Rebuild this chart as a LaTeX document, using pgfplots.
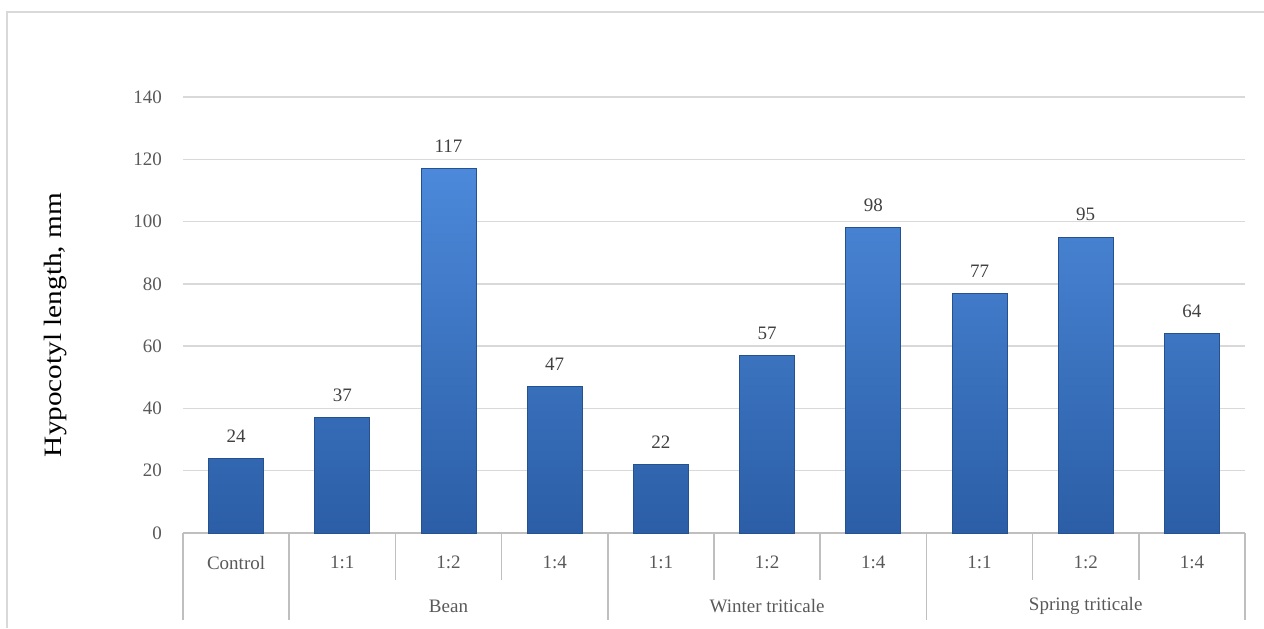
\documentclass[border=0pt]{standalone}
\usepackage{pgfplots}
\pgfplotsset{compat=1.18}
\usepackage{fontspec}
\setmainfont{Liberation Serif}
\definecolor{barTop}{HTML}{4C89DA}
\definecolor{barBot}{HTML}{2B5EA6}
\definecolor{barEdge}{HTML}{25528F}
\definecolor{gridc}{HTML}{D9D9D9}
\definecolor{axisc}{HTML}{BFBFBF}
\definecolor{tickc}{HTML}{595959}
\definecolor{valc}{HTML}{404040}
\newcommand{\tickfont}{\fontsize{9.5}{11}\selectfont}
\begin{document}
\begin{tikzpicture}
\path[use as bounding box] (0,0) rectangle (632pt,314pt);
% chart area frame
\draw[gray!30, line width=0.8pt] (3.5pt,0) -- (3.5pt,308pt) -- (632pt,308pt);
\begin{axis}[
  at={(91.5pt,47.5pt)}, anchor=south west,
  scale only axis, width=531pt, height=218pt,
  clip=false,
  xmin=-0.5, xmax=9.5, ymin=0, ymax=140,
  ytick={0,20,...,140},
  ymajorgrids, grid style={gridc, line width=0.75pt},
  separate axis lines,
  axis x line*=bottom, axis y line*=left,
  x axis line style={axisc, line width=0.75pt, -},
  y axis line style={draw=none},
  ytick style={draw=none},
  /pgf/number format/assume math mode=true,
  tick label style={font=\tickfont, text=tickc},
  yticklabel style={xshift=-7pt},
  xtick={0,...,9},
  xticklabels={Control,1:1,1:2,1:4,1:1,1:2,1:4,1:1,1:2,1:4},
  xticklabel style={yshift=-8pt},
  major tick length=0pt,
  tick align=outside,
  minor xtick={1.5,2.5,4.5,5.5,7.5,8.5},
  minor tick length=23.5pt,
  minor x tick style={axisc, line width=0.75pt},
  extra x ticks={-0.5,0.5,3.5,6.5,9.5},
  extra x tick labels={},
  extra x tick style={major tick length=43.5pt, tick style={axisc, line width=0.75pt}},
  ylabel={\scalebox{1.17}[1]{Hypocotyl length, mm}},
  every axis y label/.style={at={(axis description cs:-0.1205,0.477)}, rotate=90, anchor=center, font=\fontsize{12.5}{15}\selectfont, text=black},
  nodes near coords,
  nodes near coords style={font=\tickfont, text=valc, yshift=4.5pt},
]
\addplot[ybar, bar width=27.5pt, bar shift=0pt, draw=barEdge, line width=0.4pt,
         top color=barTop, bottom color=barBot]
  coordinates {(0,24) (1,37) (2,117) (3,47) (4,22) (5,57) (6,98) (7,77) (8,95) (9,64)};
% group names under the ratio labels
\node[font=\tickfont, text=tickc] at (axis cs:2,0) [yshift=-36.5pt] {Bean};
\node[font=\tickfont, text=tickc] at (axis cs:5,0) [yshift=-36.5pt] {Winter triticale};
\node[font=\tickfont, text=tickc] at (axis cs:8,0) [yshift=-36.5pt] {Spring triticale};
\end{axis}
\end{tikzpicture}
\end{document}
